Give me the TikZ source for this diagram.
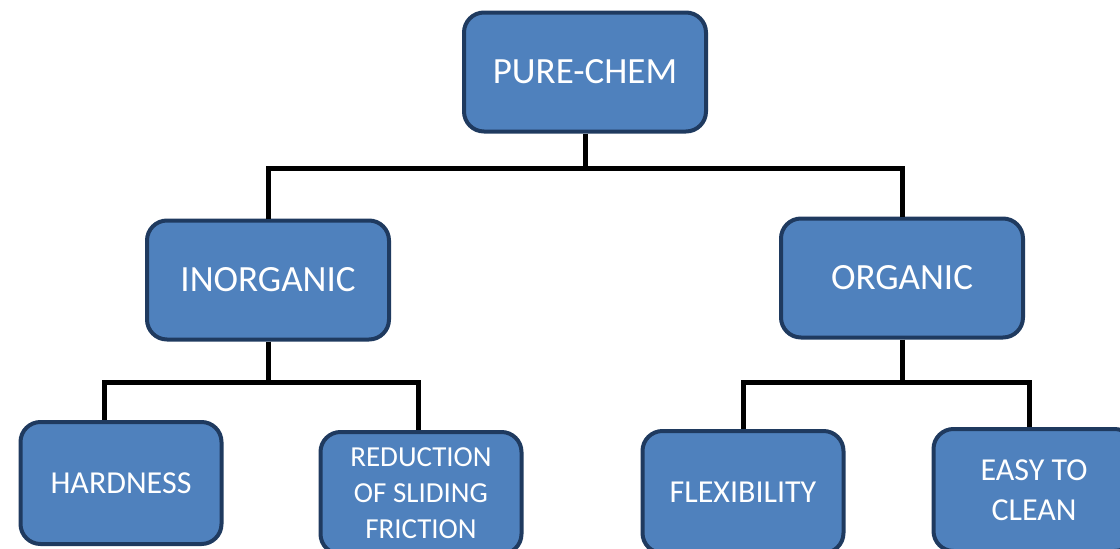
\documentclass[tikz,border=0pt]{standalone}
\usepackage{fontspec}
\setmainfont{Carlito}
\usepackage{tikz}

\definecolor{boxblue}{HTML}{4F81BD}
\definecolor{boxedge}{HTML}{1F3A5F}

\tikzset{
	chembox/.style={draw=boxedge, fill=boxblue, line width=4pt, rounded corners=20pt,
		text=white, align=center, inner sep=0pt, minimum width=242pt, minimum height=119pt,
		font=\fontsize{37}{44}\selectfont},
	smallbox/.style={chembox, minimum width=201pt, minimum height=122pt,
		font=\fontsize{32}{40}\selectfont},
	link/.style={line width=5pt, draw=black}
}

\begin{document}
\begin{tikzpicture}[x=1pt, y=-1pt]
	\useasboundingbox (0,0) rectangle (1120,549);
	\clip (0,0) rectangle (1120,549);

	\node[chembox] (pure) at (585,72) {PURE-CHEM};
	\node[chembox] (inorg) at (268,280) {INORGANIC};
	\node[chembox] (org) at (902,278) {ORGANIC};
	\node[smallbox] (hard) at (121,483) {HARDNESS};
	\node[smallbox, font=\fontsize{29}{36}\selectfont] (fric) at (421,493) {REDUCTION\\OF SLIDING\\FRICTION};
	\node[smallbox] (flex) at (743,492) {FLEXIBILITY};
	\node[smallbox] (clean) at (1034,490) {EASY TO\\CLEAN};

	\coordinate (top) at (585,168);
	\coordinate (left) at (268,382);
	\coordinate (right) at (902,382);

	\draw[link] (pure) -- (top) -| (inorg);
	\draw[link] (top) -| (org);
	\draw[link] (inorg) -- (left) -| ([xshift=-17pt]hard.north);
	\draw[link] (left) -| ([xshift=-3pt]fric.north);
	\draw[link] (org) -- (right) -| (flex);
	\draw[link] (right) -| ([xshift=-5pt]clean.north);
\end{tikzpicture}
\end{document}
